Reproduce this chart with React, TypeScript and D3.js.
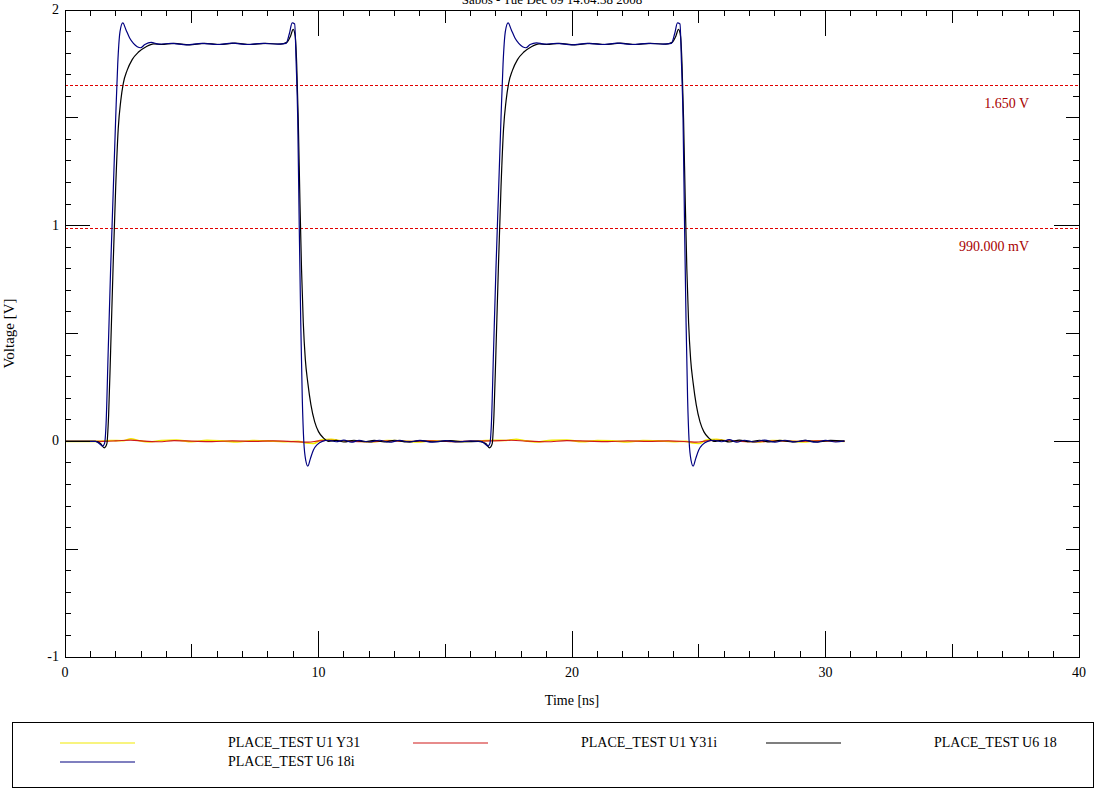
import React from 'react';
import * as d3 from 'd3';

// waveform samples: [time ns, voltage V]
const u6_18i: [number, number][] = [
  [0, 0], [0.6, 0], [1.2, 0], [1.35, -0.01], [1.48, -0.022], [1.56, -0.01], [1.62, 0.08], [1.7, 0.4],
  [1.8, 0.8], [1.9, 1.15], [2.0, 1.5], [2.08, 1.75], [2.17, 1.9], [2.28, 1.94], [2.4, 1.91], [2.55, 1.87],
  [2.7, 1.845], [2.85, 1.83], [2.98, 1.825], [3.15, 1.84], [3.4, 1.85], [3.7, 1.842], [4.2, 1.845],
  [4.8, 1.838], [5.4, 1.845], [6.0, 1.84], [6.6, 1.846], [7.2, 1.84], [7.8, 1.845], [8.4, 1.842],
  [8.72, 1.845], [8.85, 1.89], [8.96, 1.94], [9.06, 1.935], [9.12, 1.75], [9.18, 1.5], [9.24, 1.0],
  [9.3, 0.55], [9.36, 0.2], [9.42, 0.0], [9.5, -0.09], [9.58, -0.115], [9.68, -0.08], [9.8, -0.04],
  [9.95, -0.015], [10.15, 0], [10.4, 0.005], [10.7, -0.002], [11.0, 0.006], [11.3, -0.004], [11.6, 0.004],
  [12.0, -0.003], [12.4, 0.005], [12.8, -0.004], [13.2, 0.004], [13.6, -0.003], [14.0, 0.004],
  [14.5, -0.004], [15.0, 0.003], [15.5, -0.003], [16.0, 0.002], [16.4, 0.0], [16.55, -0.01],
  [16.68, -0.022], [16.76, -0.01], [16.82, 0.08], [16.9, 0.4], [17.0, 0.8], [17.1, 1.15], [17.2, 1.5],
  [17.28, 1.75], [17.37, 1.9], [17.48, 1.94], [17.6, 1.91], [17.75, 1.87], [17.9, 1.845], [18.05, 1.83],
  [18.18, 1.825], [18.35, 1.84], [18.6, 1.848], [18.9, 1.842], [19.4, 1.845], [20.0, 1.838], [20.6, 1.845],
  [21.2, 1.84], [21.8, 1.846], [22.4, 1.84], [23.0, 1.845], [23.6, 1.842], [23.92, 1.845], [24.05, 1.89],
  [24.16, 1.94], [24.26, 1.935], [24.32, 1.75], [24.38, 1.5], [24.44, 1.0], [24.5, 0.55], [24.56, 0.2],
  [24.62, 0.0], [24.7, -0.09], [24.78, -0.115], [24.88, -0.08], [25.0, -0.04], [25.15, -0.015],
  [25.35, 0], [25.6, 0.005], [25.9, -0.002], [26.2, 0.008], [26.5, -0.004], [26.8, 0.005], [27.2, -0.003],
  [27.6, 0.006], [28.0, -0.004], [28.4, 0.005], [28.8, -0.003], [29.2, 0.004], [29.6, -0.004],
  [30.0, 0.004], [30.4, -0.003], [30.75, 0.002],
];

const u6_18: [number, number][] = [
  [0, 0], [1.2, 0], [1.4, -0.01], [1.55, -0.03], [1.65, -0.012], [1.72, 0.12], [1.8, 0.42], [1.9, 0.82],
  [2.0, 1.18], [2.1, 1.45], [2.2, 1.58], [2.3, 1.66], [2.45, 1.72], [2.65, 1.77], [2.9, 1.805], [3.2, 1.83],
  [3.5, 1.843], [3.8, 1.84], [4.3, 1.845], [4.9, 1.838], [5.5, 1.845], [6.1, 1.84], [6.7, 1.846],
  [7.3, 1.84], [7.9, 1.845], [8.5, 1.842], [8.75, 1.85], [8.9, 1.88], [9.0, 1.91], [9.08, 1.88],
  [9.14, 1.75], [9.2, 1.5], [9.27, 1.1], [9.33, 0.8], [9.4, 0.55], [9.48, 0.38], [9.58, 0.27], [9.7, 0.17],
  [9.85, 0.09], [10.0, 0.045], [10.2, 0.015], [10.4, 0.0], [10.7, 0.004], [11.0, -0.003], [11.4, 0.005],
  [11.8, -0.002], [12.2, 0.004], [12.6, -0.003], [13.0, 0.005], [13.5, -0.003], [14.0, 0.003],
  [14.6, -0.002], [15.2, 0.003], [15.8, -0.002], [16.3, 0], [16.6, -0.01], [16.75, -0.03], [16.85, -0.012],
  [16.92, 0.12], [17.0, 0.42], [17.1, 0.82], [17.2, 1.18], [17.3, 1.45], [17.4, 1.58], [17.5, 1.66],
  [17.65, 1.72], [17.85, 1.77], [18.1, 1.805], [18.4, 1.83], [18.7, 1.843], [19.0, 1.84], [19.5, 1.845],
  [20.1, 1.838], [20.7, 1.845], [21.3, 1.84], [21.9, 1.846], [22.5, 1.84], [23.1, 1.845], [23.7, 1.842],
  [23.95, 1.85], [24.1, 1.88], [24.2, 1.91], [24.28, 1.88], [24.34, 1.75], [24.4, 1.5], [24.47, 1.1],
  [24.53, 0.8], [24.6, 0.55], [24.68, 0.38], [24.78, 0.27], [24.9, 0.17], [25.05, 0.09], [25.2, 0.045],
  [25.4, 0.015], [25.6, 0.0], [25.9, 0.005], [26.2, -0.003], [26.6, 0.006], [27.0, -0.002], [27.4, 0.005],
  [27.8, -0.003], [28.2, 0.004], [28.7, -0.003], [29.2, 0.004], [29.7, -0.003], [30.2, 0.004],
  [30.75, 0.001],
];

const u1_y31: [number, number][] = [
  [0, 0], [1.4, 0], [1.8, 0.004], [2.3, 0.003], [2.6, 0.012], [2.9, 0.004], [3.3, -0.003], [3.8, 0.004],
  [4.4, 0.006], [5.0, -0.002], [5.6, 0.005], [6.2, 0.002], [6.8, -0.003], [7.4, 0.004], [8.0, 0.002],
  [8.6, -0.002], [9.2, 0.0], [9.5, -0.008], [9.8, -0.01], [10.1, 0.006], [10.5, 0.01], [10.9, 0.003],
  [11.5, 0.002], [12.1, -0.003], [12.7, 0.004], [13.3, 0.002], [13.9, -0.003], [14.5, 0.003],
  [15.1, 0.001], [15.7, -0.002], [16.3, 0.002], [16.9, 0.005], [17.4, 0.004], [17.8, 0.01], [18.1, 0.004],
  [18.6, -0.003], [19.2, 0.005], [19.8, 0.006], [20.4, -0.002], [21.0, 0.004], [21.6, 0.002],
  [22.2, -0.003], [22.8, 0.004], [23.4, 0.002], [24.0, -0.002], [24.5, 0.0], [24.75, -0.008],
  [25.0, -0.01], [25.3, 0.006], [25.7, 0.01], [26.1, 0.003], [26.7, 0.002], [27.3, -0.003], [27.9, 0.004],
  [28.5, 0.002], [29.1, -0.003], [29.7, 0.003], [30.3, 0.001], [30.75, 0],
];

const u1_y31i: [number, number][] = [
  [0, 0], [1.5, 0], [2.0, 0.002], [2.6, 0.006], [3.1, 0.001], [3.7, -0.002], [4.3, 0.003], [5.0, 0.001],
  [5.8, -0.001], [6.6, 0.002], [7.4, 0.0], [8.2, 0.002], [9.0, -0.001], [9.6, -0.004], [10.0, 0.002],
  [10.5, 0.005], [11.2, 0.001], [12.0, -0.002], [12.8, 0.002], [13.6, 0.0], [14.4, 0.002], [15.2, -0.001],
  [16.0, 0.001], [16.8, 0.002], [17.6, 0.005], [18.2, 0.001], [19.0, -0.002], [19.8, 0.003],
  [20.6, 0.001], [21.4, -0.001], [22.2, 0.002], [23.0, 0.0], [23.8, 0.002], [24.6, -0.002],
  [24.9, -0.004], [25.3, 0.002], [25.8, 0.005], [26.5, 0.001], [27.3, -0.002], [28.1, 0.002],
  [28.9, 0.0], [29.7, 0.002], [30.75, 0],
];

const xTickLabels = [0, 10, 20, 30, 40];
const yTickLabels = [2, 1, 0, -1];
const markerValues = [1.65, 0.99];
const markerLabels = ['1.650 V', '990.000 mV'];

const traces = [
  { name: 'PLACE_TEST U1 Y31', color: '#f2ea00', data: u1_y31 },
  { name: 'PLACE_TEST U1 Y31i', color: '#d01818', data: u1_y31i },
  { name: 'PLACE_TEST U6 18', color: '#000000', data: u6_18 },
  { name: 'PLACE_TEST U6 18i', color: '#000080', data: u6_18i },
];

const FONT = '"Liberation Serif", "DejaVu Serif", serif';

export default function App() {
  const left = 65, right = 1079, top = 10, bottom = 657;
  const x = d3.scaleLinear().domain([0, 40]).range([left, right]);
  const y = d3.scaleLinear().domain([-1, 2]).range([bottom, top]);

  const line = d3.line<[number, number]>()
    .x(d => x(d[0]))
    .y(d => y(d[1]))
    .curve(d3.curveMonotoneX);

  const xMinor = x.ticks(40);
  const yMinor = d3.range(-10, 21).map(i => i / 10);

  const xLen = (v: number) => (v % 10 === 0 ? 26 : v % 5 === 0 ? 13 : 6);
  const yLen = (v: number) => {
    const k = Math.round(v * 10);
    return k % 10 === 0 ? 25 : k % 5 === 0 ? 13 : 6;
  };

  const legendPos = [
    { lx: 60, tx: 228, ly: 743 },
    { lx: 413, tx: 581, ly: 743 },
    { lx: 766, tx: 934, ly: 743 },
    { lx: 60, tx: 228, ly: 762 },
  ];

  return (
    <svg width={1098} height={791} style={{ position: 'absolute', left: 0, top: 0, background: '#fff' }}
      fontFamily={FONT}>
      <rect x={0} y={0} width={1098} height={791} fill="#fff" />
      {/* title, cut at the top edge as in the original capture */}
      <text x={552} y={4} textAnchor="middle" fontSize={13} fill="#000">
        Sabos - Tue Dec 09 14:04:38 2008
      </text>

      {/* marker lines */}
      {markerValues.map((v, i) => {
        const py = Math.round(y(v)) + 0.5;
        return (
          <g key={v}>
            <line x1={left} x2={right} y1={py} y2={py} stroke="#e00000" strokeWidth={1}
              strokeDasharray="3,2" shapeRendering="crispEdges" />
            <text x={1029} y={py + 22} textAnchor="end" fontSize={14} fill="#a80000">
              {markerLabels[i]}
            </text>
          </g>
        );
      })}

      {/* traces */}
      {traces.map(t => (
        <path key={t.name} d={line(t.data) || ''} fill="none" stroke={t.color}
          strokeWidth={t.color === '#f2ea00' ? 1.6 : 1.2} />
      ))}

      {/* frame and ticks */}
      <g shapeRendering="crispEdges">
        <rect x={left} y={top} width={right - left} height={bottom - top} fill="none" stroke="#000" />
        {xMinor.map(v => (
          <g key={'x' + v} stroke="#000">
            <line x1={x(v)} x2={x(v)} y1={bottom} y2={bottom - xLen(v)} />
            <line x1={x(v)} x2={x(v)} y1={top} y2={top + xLen(v)} />
          </g>
        ))}
        {yMinor.map(v => (
          <g key={'y' + v} stroke="#000">
            <line x1={left} x2={left + yLen(v)} y1={y(v)} y2={y(v)} />
            <line x1={right} x2={right - yLen(v)} y1={y(v)} y2={y(v)} />
          </g>
        ))}
      </g>

      {xTickLabels.map(v => (
        <text key={'xl' + v} x={x(v)} y={bottom + 20} textAnchor="middle" fontSize={14}>{v}</text>
      ))}
      {yTickLabels.map(v => (
        <text key={'yl' + v} x={left - 6} y={y(v) + 4} textAnchor="end" fontSize={14}>{v}</text>
      ))}

      <text x={(left + right) / 2} y={705} textAnchor="middle" fontSize={14}>Time [ns]</text>
      <text transform={`translate(14, ${(top + bottom) / 2}) rotate(-90)`} textAnchor="middle" fontSize={15}>
        Voltage [V]
      </text>

      {/* legend */}
      <rect x={12} y={722} width={1081} height={65} fill="none" stroke="#000" shapeRendering="crispEdges" />
      {traces.map((t, i) => (
        <g key={'lg' + t.name}>
          <line x1={legendPos[i].lx} x2={legendPos[i].lx + 75} y1={legendPos[i].ly} y2={legendPos[i].ly}
            stroke={t.color} strokeWidth={1.2} />
          <text x={legendPos[i].tx} y={legendPos[i].ly + 4} fontSize={14}>{t.name}</text>
        </g>
      ))}
    </svg>
  );
}
